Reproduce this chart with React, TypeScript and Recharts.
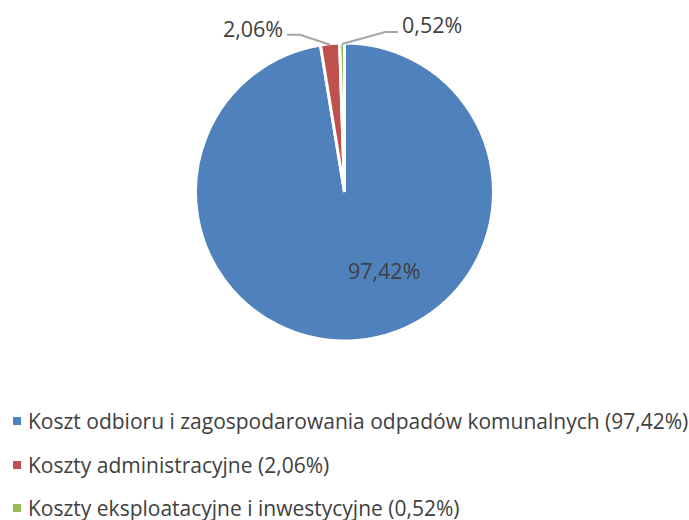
import React from "react";
import { PieChart, Pie, Cell } from "recharts";

const categories = [
  "Koszt odbioru i zagospodarowania odpadów komunalnych",
  "Koszty administracyjne",
  "Koszty eksploatacyjne i inwestycyjne",
];
const shares = [97.42, 2.06, 0.52];
const colors = ["#4F81BD", "#C0504D", "#9BBB59"];

const data = categories.map((name, i) => ({ name, value: shares[i] }));

const FONT = "'Open Sans', sans-serif";
const TEXT = "#404040";
const RAD = Math.PI / 180;

// leader line elbows for the two small slices (left, right), like Excel's best fit
const leaders = [null, { dx: -30, dy: -10, ty: -6.5 }, { dx: 43, dy: -12, ty: -8 }];

const fmt = (v: number) => v.toFixed(2).replace(".", ",") + "%";

const renderLabel = (props: any) => {
  const { cx, cy, midAngle, outerRadius, index, value } = props;
  const cos = Math.cos(-midAngle * RAD);
  const sin = Math.sin(-midAngle * RAD);
  const lead = leaders[index];
  if (!lead) {
    const r = outerRadius * 0.53;
    return (
      <text
        x={cx + r * cos - 3}
        y={cy + r * sin}
        fill={TEXT}
        fontFamily={FONT}
        fontSize={21.5}
        textAnchor="start"
        dominantBaseline="central"
      >
        {fmt(value)}
      </text>
    );
  }
  const side = lead.dx >= 0 ? 1 : -1;
  const ax = cx + (outerRadius - 1) * cos;
  const ay = cy + (outerRadius - 1) * sin;
  const ex = ax + lead.dx;
  const ey = ay + lead.dy;
  const lx = ex + side * 13;
  return (
    <g>
      <polyline
        points={`${ax},${ay} ${ex},${ey} ${lx},${ey}`}
        fill="none"
        stroke="#A6A6A6"
        strokeWidth={2}
      />
      <text
        x={lx + side * 4}
        y={ey + lead.ty}
        fill={TEXT}
        fontFamily={FONT}
        fontSize={21.5}
        textAnchor={side > 0 ? "start" : "end"}
        dominantBaseline="central"
      >
        {fmt(value)}
      </text>
    </g>
  );
};

export default function App() {
  return (
    <div style={{ position: "absolute", left: 0, top: 0, width: 689, height: 520, background: "#fff" }}>
      <PieChart width={689} height={370} margin={{ top: 0, right: 0, bottom: 0, left: 0 }}>
        <Pie
          data={data}
          dataKey="value"
          nameKey="name"
          cx="50%"
          cy={192}
          outerRadius={149}
          startAngle={90}
          endAngle={-270}
          stroke="#fff"
          strokeWidth={3}
          label={renderLabel}
          labelLine={false}
          isAnimationActive={false}
        >
          {data.map((_, i) => (
            <Cell key={i} fill={colors[i]} />
          ))}
        </Pie>
      </PieChart>
      <div
        style={{
          position: "absolute",
          left: 0,
          top: 409,
          fontFamily: FONT,
          fontSize: 21,
          lineHeight: "24px",
          color: TEXT,
        }}
      >
        {categories.map((name, i) => (
          <div
            key={i}
            style={{
              display: "flex",
              alignItems: "center",
              height: 24,
              marginTop: i === 0 ? 0 : 19.5,
              whiteSpace: "nowrap",
            }}
          >
            <span
              style={{
                display: "inline-block",
                width: 8,
                height: 8,
                background: colors[i],
                marginLeft: 13,
                marginRight: 7,
              }}
            />
            <span>
              {name} ({fmt(shares[i])})
            </span>
          </div>
        ))}
      </div>
    </div>
  );
}
